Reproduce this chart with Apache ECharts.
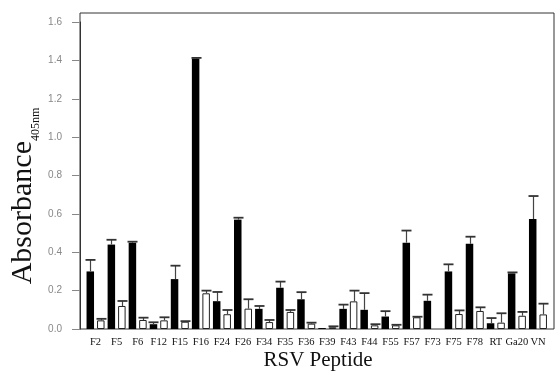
<!DOCTYPE html>
<html>
<head>
<meta charset="utf-8">
<script src="https://cdn.jsdelivr.net/npm/echarts@6/dist/echarts.min.js"></script>
<style>
  html, body { margin: 0; padding: 0; background: #fff; }
  #chart { width: 555px; height: 373px; }
</style>
</head>
<body>
<div id="chart"></div>
<script>
// RSV peptide ELISA readings (absorbance at 405 nm), two sample groups per peptide
const peptides = ['F2', 'F5', 'F6', 'F12', 'F15', 'F16', 'F24', 'F26', 'F34', 'F35', 'F36',
                  'F39', 'F43', 'F44', 'F55', 'F57', 'F73', 'F75', 'F78', 'RT', 'Ga20', 'VN'];

const solidValues = [0.30, 0.44, 0.45, 0.025, 0.26, 1.41, 0.145, 0.57, 0.105, 0.215, 0.155,
                     0.005, 0.105, 0.10, 0.065, 0.45, 0.147, 0.30, 0.444, 0.03, 0.29, 0.573];
const solidErrors = [0.06, 0.025, 0.005, 0.01, 0.07, 0.003, 0.048, 0.01, 0.015, 0.032, 0.037,
                     0.0, 0.022, 0.087, 0.028, 0.063, 0.032, 0.037, 0.037, 0.027, 0.005, 0.12];

const openValues = [0.045, 0.12, 0.047, 0.045, 0.038, 0.186, 0.077, 0.106, 0.036, 0.089, 0.028,
                    0.009, 0.144, 0.019, 0.019, 0.061, null, 0.078, 0.094, 0.033, 0.069, 0.076];
const openErrors = [0.008, 0.026, 0.012, 0.016, 0.003, 0.014, 0.022, 0.049, 0.011, 0.01, 0.005,
                    0.005, 0.056, 0.006, 0.003, 0.003, null, 0.019, 0.019, 0.049, 0.02, 0.056];

const yTicks = { min: 0, max: 1.6, interval: 0.2 };

// bar geometry
const BAR_W = 7.5;
const BAR_GAP_PX = 3;
const PAIR_OFFSET = (BAR_W + BAR_GAP_PX) / 2;
const CAP_HALF = 5;

function errorBarSeries(values, errors, offset) {
  return {
    type: 'custom',
    xAxisIndex: 1,
    yAxisIndex: 1,
    z: 5,
    data: values.map((v, i) => [i, v, errors[i]]),
    renderItem: function (params, api) {
      const v = api.value(1);
      const e = api.value(2);
      if (v == null || isNaN(v) || e == null || isNaN(e) || e <= 0) return null;
      const base = api.coord([api.value(0), v]);
      const top = api.coord([api.value(0), v + e]);
      const x = Math.round(base[0] + offset) + 0.5;
      return {
        type: 'group',
        children: [
          { type: 'line', shape: { x1: x, y1: base[1], x2: x, y2: top[1] },
            style: { stroke: '#444', lineWidth: 1.2 } },
          { type: 'line', shape: { x1: x - CAP_HALF, y1: top[1], x2: x + CAP_HALF, y2: top[1] },
            style: { stroke: '#333', lineWidth: 1.8 } }
        ]
      };
    }
  };
}

const chart = echarts.init(document.getElementById('chart'), null, { renderer: 'canvas' });

chart.setOption({
  animation: false,
  backgroundColor: '#fff',
  grid: [
    // outer frame
    { left: 80, right: 1, top: 13, bottom: 44, show: true, borderColor: '#333', borderWidth: 1,
      backgroundColor: 'transparent' },
    // bar area
    { left: 85, right: 6.5, top: 22, bottom: 44 }
  ],
  xAxis: [
    { gridIndex: 0, type: 'value', show: false, min: 0, max: 1 },
    {
      gridIndex: 1,
      type: 'category',
      data: peptides,
      axisLine: { show: false },
      axisTick: { show: false },
      axisLabel: {
        interval: 0,
        margin: 8,
        color: '#111',
        fontFamily: 'Liberation Serif',
        fontSize: 10.5
      },
      splitLine: { show: false }
    }
  ],
  yAxis: [
    { gridIndex: 0, type: 'value', show: false, min: 0, max: 1 },
    {
      gridIndex: 1,
      type: 'value',
      min: yTicks.min,
      max: yTicks.max,
      interval: yTicks.interval,
      offset: 5,
      axisLine: { show: true, lineStyle: { color: '#333', width: 1 } },
      axisTick: { show: true, inside: false, length: 8, lineStyle: { color: '#888' } },
      axisLabel: {
        margin: 18,
        color: '#888',
        fontFamily: 'Liberation Sans',
        fontSize: 10,
        formatter: v => v.toFixed(1)
      },
      splitLine: { show: false }
    }
  ],
  graphic: [
    {
      type: 'text',
      x: 23,
      y: 196,
      rotation: Math.PI / 2,
      style: {
        text: '{a|Absorbance}{b|405nm}',
        align: 'center',
        verticalAlign: 'middle',
        rich: {
          a: { fontFamily: 'Liberation Serif', fontSize: 30, lineHeight: 38, fill: '#111' },
          b: { fontFamily: 'Liberation Serif', fontSize: 12, lineHeight: 12, verticalAlign: 'bottom', fill: '#111' }
        }
      }
    },
    {
      type: 'text',
      x: 318,
      y: 360,
      style: {
        text: 'RSV Peptide',
        align: 'center',
        verticalAlign: 'middle',
        fontFamily: 'Liberation Serif',
        fontSize: 21,
        fill: '#111'
      }
    }
  ],
  series: [
    {
      type: 'bar',
      xAxisIndex: 1,
      yAxisIndex: 1,
      data: solidValues,
      barWidth: BAR_W,
      barGap: (BAR_GAP_PX / BAR_W * 100) + '%',
      itemStyle: { color: '#000' }
    },
    {
      type: 'bar',
      xAxisIndex: 1,
      yAxisIndex: 1,
      data: openValues,
      barWidth: BAR_W,
      itemStyle: { color: '#fff', borderColor: '#222', borderWidth: 1 }
    },
    errorBarSeries(solidValues, solidErrors, -PAIR_OFFSET),
    errorBarSeries(openValues, openErrors, PAIR_OFFSET)
  ]
});
</script>
</body>
</html>
